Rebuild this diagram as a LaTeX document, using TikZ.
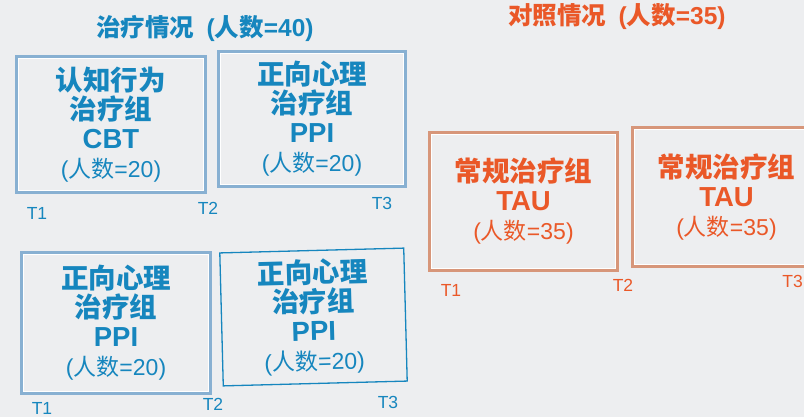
\documentclass[tikz,border=0pt]{standalone}
\usepackage{fontspec}
\setmainfont{Liberation Sans}
\newfontfamily\cjk{Noto Sans CJK SC}[BoldFont={Noto Sans CJK SC Black}]
\newcommand\zh[1]{{\cjk #1}}
\definecolor{tblue}{RGB}{22,134,190}
\definecolor{torange}{RGB}{234,88,40}
\definecolor{fblue}{RGB}{136,176,210}
\definecolor{forange}{RGB}{215,150,122}
\definecolor{bg}{RGB}{237,238,240}
\tikzset{
  box/.style={draw=#1, line width=3.5pt, inner sep=0pt, align=center,
    font=\bfseries\fontsize{27.5}{29}\selectfont},
  thinbox/.style={draw=tblue, line width=1.3pt, inner sep=0pt, align=center,
    font=\bfseries\fontsize{27.5}{29}\selectfont},
  tlabel/.style={font=\fontsize{17.5}{17.5}\selectfont, inner sep=0pt},
  title/.style={font=\bfseries\fontsize{24.5}{24.5}\selectfont, inner sep=0pt},
  inner/.style={white, line width=1.4pt}
}
\newcommand\lat[1]{{\fontsize{27.5}{29}\selectfont #1}}
\newcommand\cnt[1]{{\mdseries\fontsize{23}{29}\selectfont (\zh{人数}=#1)}}
\begin{document}
\begin{tikzpicture}[x=1pt,y=-1pt]
\fill[bg] (0,0) rectangle (804,417);
\useasboundingbox (0,0) rectangle (804,417);

\node[title, text=tblue] (t1) at (205,28) {\zh{治疗情况}\hspace{0.5em}(\zh{人数}=40)};
\node[title, text=torange] (t2) at (617,17) {\zh{对照情况}\hspace{0.5em}(\zh{人数}=35)};

\node[box=fblue, text=tblue, minimum width=188pt, minimum height=135pt] (b1) at (111,124.5)
  {\zh{认知行为}\\\zh{治疗组}\\\lat{CBT}\\\cnt{20}};
\node[box=fblue, text=tblue, minimum width=186pt, minimum height=134pt] (b2) at (312,119)
  {\zh{正向心理}\\\zh{治疗组}\\\lat{PPI}\\\cnt{20}};
\node[box=fblue, text=tblue, minimum width=188pt, minimum height=140pt] (b3) at (116,323)
  {\zh{正向心理}\\\zh{治疗组}\\\lat{PPI}\\\cnt{20}};
\node[thinbox, text=tblue, minimum width=184pt, minimum height=133pt, rotate=1.5] (b4) at (313.5,317)
  {\zh{正向心理}\\\zh{治疗组}\\\lat{PPI}\\\cnt{20}};
\node[box=forange, text=torange, minimum width=187pt, minimum height=137pt] (b5) at (523.5,201.5)
  {\zh{常规治疗组}\\\lat{TAU}\\\cnt{35}};
\node[box=forange, text=torange, minimum width=187pt, minimum height=138pt] (b6) at (726.5,197)
  {\zh{常规治疗组}\\\lat{TAU}\\\cnt{35}};

\foreach \b in {b1,b2,b3,b5,b6}{
  \draw[inner] ([shift={(3.2,3.2)}]\b.north west) rectangle ([shift={(-3.2,-3.2)}]\b.south east);
}

\node[tlabel, text=tblue] (l1) at (37,213) {T1};
\node[tlabel, text=tblue] (l2) at (208,208) {T2};
\node[tlabel, text=tblue] (l3) at (382,203) {T3};
\node[tlabel, text=tblue] (l4) at (42,408) {T1};
\node[tlabel, text=tblue] (l5) at (213,404) {T2};
\node[tlabel, text=tblue] (l6) at (388,402) {T3};
\node[tlabel, text=torange] (l7) at (451,290) {T1};
\node[tlabel, text=torange] (l8) at (623,285) {T2};
\node[tlabel, text=torange, anchor=east] (l9) at (803,281) {T3};
\end{tikzpicture}
\end{document}
